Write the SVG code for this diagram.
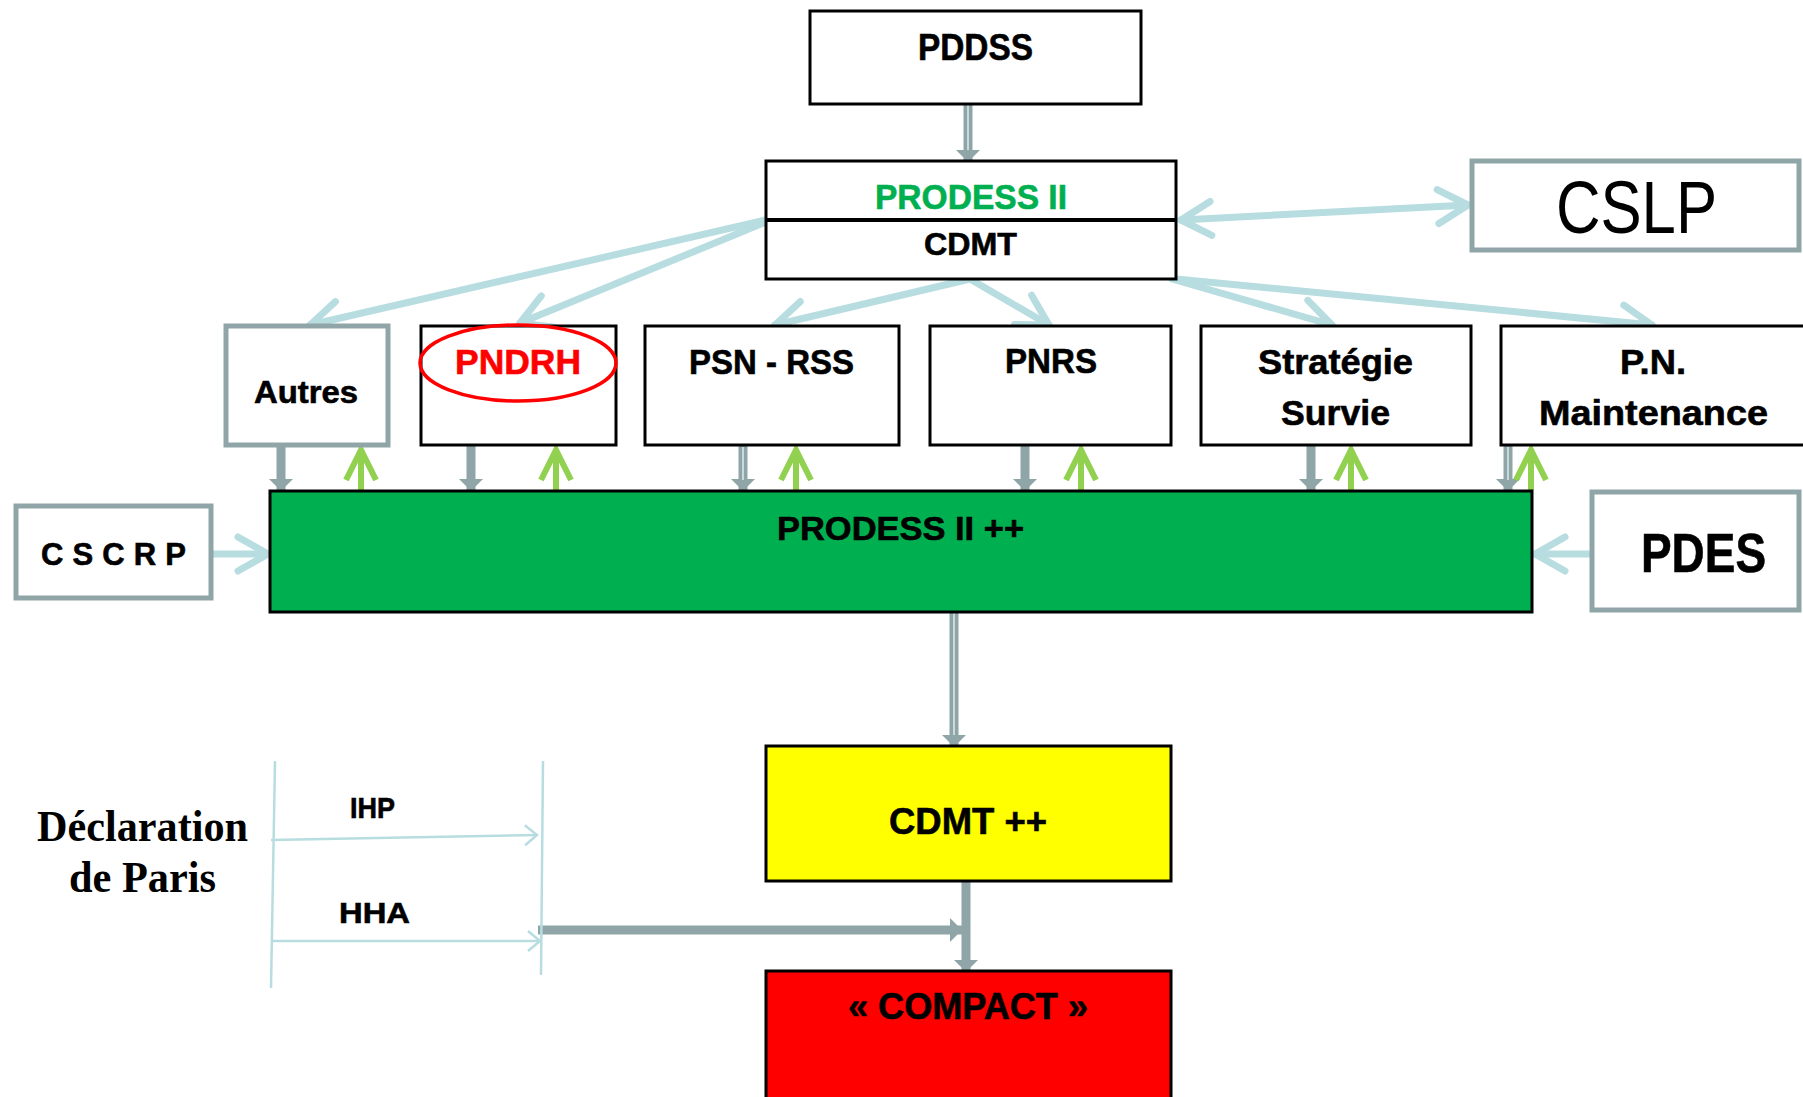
<svg xmlns="http://www.w3.org/2000/svg" width="1803" height="1097" viewBox="0 0 1803 1097">
<style>
.box{fill:#ffffff;stroke:#000000;stroke-width:3}
.gbox{fill:#ffffff;stroke:#8fa5a8;stroke-width:5}
.t{font-family:"Liberation Sans",Arial,sans-serif;font-weight:bold;fill:#000000;stroke:#000000;stroke-width:0.6}
.lb{fill:none;stroke:#b7dde1;stroke-width:7;stroke-linecap:round}
.thin{fill:none;stroke:#b7dde1;stroke-width:2.5}
.gr{fill:none;stroke:#8fa5a8;stroke-width:9}
.inner{fill:none;stroke:#c9dadc;stroke-width:2}
.up{fill:none;stroke:#92d050;stroke-width:6}
</style>
<defs>
<marker id="chev" markerUnits="userSpaceOnUse" viewBox="-45 -30 60 60" markerWidth="60" markerHeight="60" refX="0" refY="0" orient="auto-start-reverse" overflow="visible">
<path d="M-30,-17 L0,0 L-30,17" fill="none" stroke="#b7dde1" stroke-width="7" stroke-linecap="round" stroke-linejoin="round"/>
</marker>
<marker id="thinchev" markerUnits="userSpaceOnUse" viewBox="-20 -15 30 30" markerWidth="30" markerHeight="30" refX="0" refY="0" orient="auto" overflow="visible">
<path d="M-12,-10 L0,0 L-12,10" fill="none" stroke="#b7dde1" stroke-width="2.5"/>
</marker>
<marker id="tri" markerUnits="userSpaceOnUse" viewBox="-20 -20 30 40" markerWidth="30" markerHeight="40" refX="0" refY="0" orient="auto" overflow="visible">
<path d="M-12,-12 L0,0 L-12,12 Z" fill="#8fa5a8"/>
</marker>
<marker id="gchev" markerUnits="userSpaceOnUse" viewBox="-40 -25 50 50" markerWidth="50" markerHeight="50" refX="0" refY="0" orient="auto" overflow="visible">
<path d="M-30,-15 L0,0 L-30,15" fill="none" stroke="#92d050" stroke-width="6" stroke-linejoin="miter"/>
</marker>
</defs>

<g id="connectors">
<path class="gr" d="M968,98 L968,162" marker-end="url(#tri)"/>
<path class="inner" d="M968,100 L968,150"/>
<path class="lb" d="M766,220 L310,325" marker-end="url(#chev)"/>
<path class="lb" d="M766,222 L520,323" marker-end="url(#chev)"/>
<path class="lb" d="M970,279 L775,325" marker-end="url(#chev)"/>
<path class="lb" d="M970,279 L1049,325" marker-end="url(#chev)"/>
<path class="lb" d="M1172,279 L1332,325" marker-end="url(#chev)"/>
<path class="lb" d="M1176,279 L1652,325" marker-end="url(#chev)"/>
<path class="lb" d="M1181,220 L1468,205" marker-start="url(#chev)" marker-end="url(#chev)"/>
<path class="gr" d="M281,446 L281,491" marker-end="url(#tri)"/>
<path class="gr" d="M471,446 L471,491" marker-end="url(#tri)"/>
<path class="gr" d="M743,446 L743,491" marker-end="url(#tri)"/>
<path class="inner" d="M743,447 L743,480"/>
<path class="gr" d="M1025,446 L1025,491" marker-end="url(#tri)"/>
<path class="gr" d="M1311,446 L1311,491" marker-end="url(#tri)"/>
<path class="gr" d="M1508,446 L1508,491" marker-end="url(#tri)"/>
<path class="inner" d="M1508,447 L1508,480"/>
<path class="up" d="M361,490 L361,450" marker-end="url(#gchev)"/>
<path class="up" d="M556,490 L556,450" marker-end="url(#gchev)"/>
<path class="up" d="M796,490 L796,450" marker-end="url(#gchev)"/>
<path class="up" d="M1081,490 L1081,450" marker-end="url(#gchev)"/>
<path class="up" d="M1351,490 L1351,450" marker-end="url(#gchev)"/>
<path class="up" d="M1531,490 L1531,450" marker-end="url(#gchev)"/>
<path class="lb" d="M212,554 L268,554" marker-end="url(#chev)"/>
<path class="lb" d="M1590,554 L1535,554" marker-end="url(#chev)"/>
<path class="gr" d="M954,610 L954,747" marker-end="url(#tri)"/>
<path class="inner" d="M954,612 L954,735"/>
<path class="gr" d="M966,882 L966,972" marker-end="url(#tri)"/>
<path class="gr" d="M538,930 L962,930" marker-end="url(#tri)"/>
<path class="thin" d="M275,761 L271,988"/>
<path class="thin" d="M543,761 L541,975"/>
<path class="thin" d="M271,840 L537,835" marker-end="url(#thinchev)"/>
<path class="thin" d="M273,941 L540,941" marker-end="url(#thinchev)"/>
</g>

<g id="node-pddss">
<rect class="box" x="810" y="11" width="331" height="93"/>
<text class="t" x="918" y="60" font-size="37" textLength="115" lengthAdjust="spacingAndGlyphs">PDDSS</text>
</g>

<g id="node-prodess">
<rect class="box" x="766" y="161" width="410" height="118"/>
<line x1="766" y1="220" x2="1176" y2="220" stroke="#000" stroke-width="4"/>
<text class="t" x="875" y="209" font-size="35" style="fill:#00b050;stroke:#00b050" textLength="192" lengthAdjust="spacingAndGlyphs">PRODESS II</text>
<text class="t" x="924" y="255" font-size="32" textLength="93" lengthAdjust="spacingAndGlyphs">CDMT</text>
</g>

<g id="node-cslp">
<rect class="gbox" x="1472" y="161" width="327" height="89"/>
<text x="1556" y="233" font-family="Liberation Sans, Arial, sans-serif" font-size="74" fill="#000" textLength="161" lengthAdjust="spacingAndGlyphs">CSLP</text>
</g>

<g id="node-autres">
<rect class="gbox" x="226" y="326" width="162" height="119"/>
<text class="t" x="254" y="403" font-size="32" textLength="104" lengthAdjust="spacingAndGlyphs">Autres</text>
</g>

<g id="node-pndrh">
<rect class="box" x="421" y="326" width="195" height="119"/>
<ellipse cx="518" cy="363" rx="98" ry="38" fill="none" stroke="#ff0000" stroke-width="3.5"/>
<text class="t" x="455" y="374" font-size="35" style="fill:#ff0000;stroke:#ff0000" textLength="126" lengthAdjust="spacingAndGlyphs">PNDRH</text>
</g>

<g id="node-psn">
<rect class="box" x="645" y="326" width="254" height="119"/>
<text class="t" x="689" y="374" font-size="35" textLength="165" lengthAdjust="spacingAndGlyphs">PSN - RSS</text>
</g>

<g id="node-pnrs">
<rect class="box" x="930" y="326" width="241" height="119"/>
<text class="t" x="1005" y="373" font-size="35" textLength="92" lengthAdjust="spacingAndGlyphs">PNRS</text>
</g>

<g id="node-strategie">
<rect class="box" x="1201" y="326" width="270" height="119"/>
<text class="t" x="1258" y="374" font-size="35" textLength="155" lengthAdjust="spacingAndGlyphs">Stratégie</text>
<text class="t" x="1281" y="425" font-size="35" textLength="109" lengthAdjust="spacingAndGlyphs">Survie</text>
</g>

<g id="node-pn">
<rect class="box" x="1501" y="326" width="330" height="119"/>
<text class="t" x="1620" y="374" font-size="35" textLength="66" lengthAdjust="spacingAndGlyphs">P.N.</text>
<text class="t" x="1539" y="425" font-size="35" textLength="229" lengthAdjust="spacingAndGlyphs">Maintenance</text>
</g>

<g id="node-cscrp">
<rect class="gbox" x="16" y="506" width="195" height="92"/>
<text class="t" x="41" y="565" font-size="31" textLength="145" lengthAdjust="spacing">CSCRP</text>
</g>

<g id="node-prodess-pp">
<rect x="270" y="491" width="1262" height="121" fill="#00b050" stroke="#000" stroke-width="3"/>
<text class="t" x="777" y="540" font-size="34" textLength="247" lengthAdjust="spacingAndGlyphs">PRODESS II ++</text>
</g>

<g id="node-pdes">
<rect class="gbox" x="1592" y="492" width="207" height="118"/>
<text class="t" x="1641" y="572" font-size="55" textLength="125" lengthAdjust="spacingAndGlyphs">PDES</text>
</g>

<g id="node-cdmtpp">
<rect x="766" y="746" width="405" height="135" fill="#ffff00" stroke="#000" stroke-width="3"/>
<text class="t" x="889" y="834" font-size="37" textLength="158" lengthAdjust="spacingAndGlyphs">CDMT ++</text>
</g>

<g id="node-compact">
<rect x="766" y="971" width="405" height="140" fill="#ff0000" stroke="#000" stroke-width="3"/>
<text class="t" x="848" y="1019" font-size="36" textLength="240" lengthAdjust="spacingAndGlyphs">« COMPACT »</text>
</g>

<g id="node-declaration">
<text x="37" y="841" font-family="Liberation Serif, 'Times New Roman', serif" font-weight="bold" font-size="44" fill="#000" textLength="211" lengthAdjust="spacingAndGlyphs">Déclaration</text>
<text x="69" y="892" font-family="Liberation Serif, 'Times New Roman', serif" font-weight="bold" font-size="44" fill="#000" textLength="147" lengthAdjust="spacingAndGlyphs">de Paris</text>
<text class="t" x="350" y="818" font-size="29" textLength="45" lengthAdjust="spacingAndGlyphs">IHP</text>
<text class="t" x="339" y="923" font-size="29" textLength="71" lengthAdjust="spacingAndGlyphs">HHA</text>
</g>
</svg>
